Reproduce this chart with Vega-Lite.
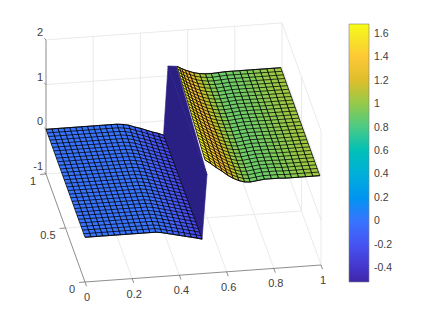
{"$schema":"https://vega.github.io/schema/vega-lite/v6.json","width":423,"height":317,"padding":0,"autosize":{"type":"none"},"background":"white","config":{"view":{"stroke":null}},
"datasets":{
"helper":[{"k":1,"ts":[0,0.0333,0.0667,0.1,0.1333,0.1667,0.2,0.2333,0.2667,0.3,0.3333,0.3667,0.4,0.4333,0.4667,0.5,0.5333,0.5667,0.6,0.6333,0.6667,0.7,0.7333,0.7667,0.8,0.8333,0.8667,0.9,0.9333,0.9667,1],"o":[0,1,2,3],"y":[0,0,1,1]}],
"nodes":[
{"i":0,"xf":0,"zf":0,"xb":0,"zb":0},{"i":1,"xf":0.025,"zf":0,"xb":0.025,"zb":0},{"i":2,"xf":0.05,"zf":0,"xb":0.05,"zb":0},{"i":3,"xf":0.075,"zf":0,"xb":0.075,"zb":0},{"i":4,"xf":0.1,"zf":0,"xb":0.1,"zb":0},{"i":5,"xf":0.125,"zf":0,"xb":0.125,"zb":0},{"i":6,"xf":0.15,"zf":0,"xb":0.15,"zb":0},{"i":7,"xf":0.175,"zf":0,"xb":0.175,"zb":0},{"i":8,"xf":0.2,"zf":0,"xb":0.2,"zb":0},{"i":9,"xf":0.225,"zf":0,"xb":0.225,"zb":0},{"i":10,"xf":0.25,"zf":0,"xb":0.25,"zb":0},{"i":11,"xf":0.275,"zf":0,"xb":0.275,"zb":0},{"i":12,"xf":0.3,"zf":0,"xb":0.3,"zb":0},
{"i":13,"xf":0.325,"zf":-0.02,"xb":0.325,"zb":-0.015},{"i":14,"xf":0.35,"zf":-0.05,"xb":0.35,"zb":-0.04},{"i":15,"xf":0.375,"zf":-0.08,"xb":0.375,"zb":-0.09},{"i":16,"xf":0.4,"zf":-0.11,"xb":0.4,"zb":-0.13},{"i":17,"xf":0.425,"zf":-0.14,"xb":0.425,"zb":-0.18},{"i":18,"xf":0.45,"zf":-0.17,"xb":0.45,"zb":-0.23},{"i":19,"xf":0.475,"zf":-0.2,"xb":0.475,"zb":-0.27},{"i":20,"xf":0.496,"zf":-0.23,"xb":0.498,"zb":-0.32},
{"i":22,"xf":0.508,"zf":1.54,"xb":0.555,"zb":1.2},{"i":23,"xf":0.532,"zf":1.45,"xb":0.565,"zb":1.17},{"i":24,"xf":0.556,"zf":1.35,"xb":0.575,"zb":1.14},{"i":25,"xf":0.58,"zf":1.26,"xb":0.59,"zb":1.1},{"i":26,"xf":0.604,"zf":1.16,"xb":0.605,"zb":1.07},{"i":27,"xf":0.628,"zf":1.08,"xb":0.625,"zb":1.03},{"i":28,"xf":0.652,"zf":1.02,"xb":0.65,"zb":1},{"i":29,"xf":0.676,"zf":0.98,"xb":0.675,"zb":0.985},{"i":30,"xf":0.7,"zf":0.97,"xb":0.7,"zb":0.98},{"i":31,"xf":0.73,"zf":0.99,"xb":0.73,"zb":0.99},{"i":32,"xf":0.76,"zf":1.01,"xb":0.76,"zb":1},{"i":33,"xf":0.79,"zf":1.01,"xb":0.79,"zb":1},{"i":34,"xf":0.82,"zf":1.01,"xb":0.82,"zb":1},{"i":35,"xf":0.85,"zf":1,"xb":0.85,"zb":1},{"i":36,"xf":0.875,"zf":1,"xb":0.875,"zb":1},{"i":37,"xf":0.905,"zf":1,"xb":0.905,"zb":1},{"i":38,"xf":0.935,"zf":1,"xb":0.935,"zb":1},{"i":39,"xf":0.965,"zf":1,"xb":0.965,"zb":1},{"i":40,"xf":0.995,"zf":1,"xb":0.995,"zb":1}],
"strips":[
{"s":39,"c":1.03,"x":[0.965,0.995,0.995,0.965],"z":[1,1,1,1]},{"s":38,"c":1.02,"x":[0.935,0.965,0.965,0.935],"z":[1,1,1,1]},{"s":37,"c":1,"x":[0.905,0.935,0.935,0.905],"z":[1,1,1,1]},{"s":36,"c":0.98,"x":[0.875,0.905,0.905,0.875],"z":[1,1,1,1]},{"s":35,"c":0.96,"x":[0.85,0.875,0.875,0.85],"z":[1,1,1,1]},{"s":34,"c":0.94,"x":[0.82,0.85,0.85,0.82],"z":[1.01,1,1,1]},{"s":33,"c":0.92,"x":[0.79,0.82,0.82,0.79],"z":[1.01,1.01,1,1]},{"s":32,"c":0.91,"x":[0.76,0.79,0.79,0.76],"z":[1.01,1.01,1,1]},{"s":31,"c":0.9,"x":[0.73,0.76,0.76,0.73],"z":[0.99,1.01,1,0.99]},{"s":30,"c":0.91,"x":[0.7,0.73,0.73,0.7],"z":[0.97,0.99,0.99,0.98]},
{"s":29,"c":0.96,"x":[0.676,0.7,0.7,0.675],"z":[0.98,0.97,0.98,0.985]},{"s":28,"c":1.03,"x":[0.652,0.676,0.675,0.65],"z":[1.02,0.98,0.985,1]},{"s":27,"c":1.12,"x":[0.628,0.652,0.65,0.625],"z":[1.08,1.02,1,1.03]},{"s":26,"c":1.22,"x":[0.604,0.628,0.625,0.605],"z":[1.16,1.08,1.03,1.07]},{"s":25,"c":1.32,"x":[0.58,0.604,0.605,0.59],"z":[1.26,1.16,1.07,1.1]},{"s":24,"c":1.42,"x":[0.556,0.58,0.59,0.575],"z":[1.35,1.26,1.1,1.14]},{"s":23,"c":1.52,"x":[0.532,0.556,0.575,0.565],"z":[1.45,1.35,1.14,1.17]},{"s":22,"c":1.62,"x":[0.508,0.532,0.565,0.555],"z":[1.54,1.45,1.17,1.2]},
{"s":21,"c":-0.5,"x":[0.517,0.517,0.553,0.517],"z":[1.2,1.2,1.2,1.22]},{"s":20,"c":-0.5,"x":[0.496,0.517,0.517,0.498],"z":[-0.23,1.2,1.22,-0.32]},
{"s":19,"c":-0.27,"x":[0.475,0.496,0.498,0.475],"z":[-0.2,-0.23,-0.32,-0.27]},{"s":18,"c":-0.22,"x":[0.45,0.475,0.475,0.45],"z":[-0.17,-0.2,-0.27,-0.23]},{"s":17,"c":-0.17,"x":[0.425,0.45,0.45,0.425],"z":[-0.14,-0.17,-0.23,-0.18]},{"s":16,"c":-0.13,"x":[0.4,0.425,0.425,0.4],"z":[-0.11,-0.14,-0.18,-0.13]},{"s":15,"c":-0.09,"x":[0.375,0.4,0.4,0.375],"z":[-0.08,-0.11,-0.13,-0.09]},{"s":14,"c":-0.06,"x":[0.35,0.375,0.375,0.35],"z":[-0.05,-0.08,-0.09,-0.04]},{"s":13,"c":-0.03,"x":[0.325,0.35,0.35,0.325],"z":[-0.02,-0.05,-0.04,-0.015]},{"s":12,"c":-0.01,"x":[0.3,0.325,0.325,0.3],"z":[0,-0.02,-0.015,0]},
{"s":11,"c":0,"x":[0.275,0.3,0.3,0.275],"z":[0,0,0,0]},{"s":10,"c":0,"x":[0.25,0.275,0.275,0.25],"z":[0,0,0,0]},{"s":9,"c":0,"x":[0.225,0.25,0.25,0.225],"z":[0,0,0,0]},{"s":8,"c":0,"x":[0.2,0.225,0.225,0.2],"z":[0,0,0,0]},{"s":7,"c":0,"x":[0.175,0.2,0.2,0.175],"z":[0,0,0,0]},{"s":6,"c":0,"x":[0.15,0.175,0.175,0.15],"z":[0,0,0,0]},{"s":5,"c":0,"x":[0.125,0.15,0.15,0.125],"z":[0,0,0,0]},{"s":4,"c":0,"x":[0.1,0.125,0.125,0.1],"z":[0,0,0,0]},{"s":3,"c":0,"x":[0.075,0.1,0.1,0.075],"z":[0,0,0,0]},{"s":2,"c":0,"x":[0.05,0.075,0.075,0.05],"z":[0,0,0,0]},{"s":1,"c":0,"x":[0.025,0.05,0.05,0.025],"z":[0,0,0,0]},{"s":0,"c":0,"x":[0,0.025,0.025,0],"z":[0,0,0,0]}],
"frame":[
{"g":1,"k":"grid","x":[0,1],"y":[1,1],"z":[-1,-1]},{"g":2,"k":"grid","x":[0,1],"y":[1,1],"z":[0,0]},{"g":3,"k":"grid","x":[0,1],"y":[1,1],"z":[1,1]},{"g":4,"k":"grid","x":[0,1],"y":[1,1],"z":[2,2]},
{"g":5,"k":"grid","x":[1,1],"y":[1,0],"z":[-1,-1]},{"g":6,"k":"grid","x":[1,1],"y":[1,0],"z":[0,0]},{"g":7,"k":"grid","x":[1,1],"y":[1,0],"z":[1,1]},{"g":8,"k":"grid","x":[1,1],"y":[1,0],"z":[2,2]},
{"g":9,"k":"grid","x":[0.2,0.2],"y":[1,1],"z":[-1,2]},{"g":10,"k":"grid","x":[0.4,0.4],"y":[1,1],"z":[-1,2]},{"g":11,"k":"grid","x":[0.6,0.6],"y":[1,1],"z":[-1,2]},{"g":12,"k":"grid","x":[0.8,0.8],"y":[1,1],"z":[-1,2]},{"g":13,"k":"grid","x":[1,1],"y":[1,1],"z":[-1,2]},
{"g":14,"k":"grid","x":[1,1],"y":[0.5,0.5],"z":[-1,2]},{"g":15,"k":"grid","x":[1,1],"y":[0,0],"z":[-1,2]},
{"g":16,"k":"grid","x":[0.2,0.2],"y":[0,1],"z":[-1,-1]},{"g":17,"k":"grid","x":[0.4,0.4],"y":[0,1],"z":[-1,-1]},{"g":18,"k":"grid","x":[0.6,0.6],"y":[0,1],"z":[-1,-1]},{"g":19,"k":"grid","x":[0.8,0.8],"y":[0,1],"z":[-1,-1]},{"g":20,"k":"grid","x":[0,1],"y":[0.5,0.5],"z":[-1,-1]},
{"g":21,"k":"axis","x":[0,0],"y":[1,1],"z":[-1,2]},{"g":22,"k":"axis","x":[0,1],"y":[0,0],"z":[-1,-1]},{"g":23,"k":"axis","x":[0,0],"y":[0,1],"z":[-1,-1]},
{"g":24,"k":"axis","x":[0,0],"y":[0,-0.04],"z":[-1,-1]},{"g":25,"k":"axis","x":[0.2,0.2],"y":[0,-0.04],"z":[-1,-1]},{"g":26,"k":"axis","x":[0.4,0.4],"y":[0,-0.04],"z":[-1,-1]},{"g":27,"k":"axis","x":[0.6,0.6],"y":[0,-0.04],"z":[-1,-1]},{"g":28,"k":"axis","x":[0.8,0.8],"y":[0,-0.04],"z":[-1,-1]},{"g":29,"k":"axis","x":[1,1],"y":[0,-0.04],"z":[-1,-1]},
{"g":30,"k":"axis","x":[0,-0.025],"y":[0,0],"z":[-1,-1]},{"g":31,"k":"axis","x":[0,-0.025],"y":[0.5,0.5],"z":[-1,-1]},{"g":32,"k":"axis","x":[0,-0.025],"y":[1,1],"z":[-1,-1]},
{"g":33,"k":"axis","x":[0,-0.005],"y":[1,1.015],"z":[-1,-1]},{"g":34,"k":"axis","x":[0,-0.005],"y":[1,1.015],"z":[0,0]},{"g":35,"k":"axis","x":[0,-0.005],"y":[1,1.015],"z":[1,1]},{"g":36,"k":"axis","x":[0,-0.005],"y":[1,1.015],"z":[2,2]}],
"labels":[
{"a":"x","t":"0","x":0,"y":0,"z":-1},{"a":"x","t":"0.2","x":0.2,"y":0,"z":-1},{"a":"x","t":"0.4","x":0.4,"y":0,"z":-1},{"a":"x","t":"0.6","x":0.6,"y":0,"z":-1},{"a":"x","t":"0.8","x":0.8,"y":0,"z":-1},{"a":"x","t":"1","x":1,"y":0,"z":-1},
{"a":"y","t":"0","x":0,"y":0,"z":-1},{"a":"y","t":"0.5","x":0,"y":0.5,"z":-1},{"a":"y","t":"1","x":0,"y":1,"z":-1},
{"a":"z","t":"-1","x":0,"y":1,"z":-1},{"a":"z","t":"0","x":0,"y":1,"z":0},{"a":"z","t":"1","x":0,"y":1,"z":1},{"a":"z","t":"2","x":0,"y":1,"z":2}]
},
"encoding":{"x":{"field":"u","type":"quantitative","scale":{"domain":[0,423],"nice":false,"zero":false},"axis":null},"y":{"field":"v","type":"quantitative","scale":{"domain":[0,317],"nice":false,"zero":false,"reverse":true},"axis":null}},
"layer":[
{"data":{"name":"frame"},"transform":[{"filter":"datum.k=='grid'"},{"flatten":["x","y","z"]},{"calculate":"85+236*datum.x-39*datum.y","as":"u"},{"calculate":"282-17*datum.x-108*datum.y-44.7*(datum.z+1)","as":"v"}],"mark":{"type":"line","stroke":"#e4e4e4","strokeWidth":0.8},"encoding":{"detail":{"field":"g"}}},
{"data":{"name":"frame"},"transform":[{"filter":"datum.k=='axis'"},{"flatten":["x","y","z"]},{"calculate":"85+236*datum.x-39*datum.y","as":"u"},{"calculate":"282-17*datum.x-108*datum.y-44.7*(datum.z+1)","as":"v"}],"mark":{"type":"line","stroke":"#707070","strokeWidth":0.8},"encoding":{"detail":{"field":"g"}}},
{"data":{"name":"strips"},"transform":[{"filter":"datum.s>=22"},{"calculate":"1","as":"k"},{"lookup":"k","from":{"data":{"name":"helper"},"key":"k","fields":["o","y"]}},{"flatten":["o","x","y","z"]},{"calculate":"85+236*datum.x-39*datum.y","as":"u"},{"calculate":"282-17*datum.x-108*datum.y-44.7*(datum.z+1)","as":"v"}],"mark":{"type":"line","interpolate":"linear-closed","stroke":"#000","strokeWidth":0.75},"encoding":{"detail":{"field":"s"},"order":{"field":"o"},"fill":{"field":"c","type":"quantitative","scale":{"domain":[-0.52,-0.31,-0.1,0.005,0.11,0.32,0.53,0.74,0.95,1.16,1.3,1.37,1.475,1.58,1.685],"range":["#3e26a8","#4741e5","#4563fd","#3875fe","#2d87f7","#20a5e3","#02bac3","#37c897","#80cc59","#d1bf27","#f8ba3d","#fec338","#f9d62d","#f5e924","#f9fb15"]},"legend":{"title":null,"orient":"none","legendX":349,"legendY":24,"padding":0,"gradientLength":258,"gradientThickness":20,"gradientStrokeColor":"#808080","gradientStrokeWidth":0.6,"values":[-0.4,-0.2,0,0.2,0.4,0.6,0.8,1,1.2,1.4,1.6],"labelExpr":"''+datum.value","labelFont":"Liberation Sans","labelFontSize":10.5,"labelColor":"#404040","labelOffset":5,"labelOverlap":false}}}},
{"data":{"name":"nodes"},"transform":[{"filter":"datum.i>=22"},{"calculate":"1","as":"k"},{"lookup":"k","from":{"data":{"name":"helper"},"key":"k","fields":["ts"]}},{"flatten":["ts"]},{"calculate":"datum.xf+(datum.xb-datum.xf)*datum.ts","as":"x"},{"calculate":"datum.zf+(datum.zb-datum.zf)*datum.ts","as":"z"},{"calculate":"85+236*datum.x-39*datum.ts","as":"u"},{"calculate":"282-17*datum.x-108*datum.ts-44.7*(datum.z+1)","as":"v"}],"mark":{"type":"line","stroke":"#000","strokeWidth":0.75},"encoding":{"detail":{"field":"ts"},"order":{"field":"i"}}},
{"data":{"name":"strips"},"transform":[{"filter":"datum.s==20||datum.s==21"},{"calculate":"1","as":"k"},{"lookup":"k","from":{"data":{"name":"helper"},"key":"k","fields":["o","y"]}},{"flatten":["o","x","y","z"]},{"calculate":"85+236*datum.x-39*datum.y","as":"u"},{"calculate":"282-17*datum.x-108*datum.y-44.7*(datum.z+1)","as":"v"}],"mark":{"type":"line","interpolate":"linear-closed","stroke":"#2a1f82","strokeWidth":0.6,"fill":"#2a1f82"},"encoding":{"detail":{"field":"s"},"order":{"field":"o"}}},
{"data":{"name":"strips"},"transform":[{"filter":"datum.s<20"},{"calculate":"1","as":"k"},{"lookup":"k","from":{"data":{"name":"helper"},"key":"k","fields":["o","y"]}},{"flatten":["o","x","y","z"]},{"calculate":"85+236*datum.x-39*datum.y","as":"u"},{"calculate":"282-17*datum.x-108*datum.y-44.7*(datum.z+1)","as":"v"}],"mark":{"type":"line","interpolate":"linear-closed","stroke":"#000","strokeWidth":0.75},"encoding":{"detail":{"field":"s"},"order":{"field":"o"},"fill":{"field":"c","type":"quantitative","legend":null}}},
{"data":{"name":"nodes"},"transform":[{"filter":"datum.i<=20"},{"calculate":"1","as":"k"},{"lookup":"k","from":{"data":{"name":"helper"},"key":"k","fields":["ts"]}},{"flatten":["ts"]},{"calculate":"datum.xf+(datum.xb-datum.xf)*datum.ts","as":"x"},{"calculate":"datum.zf+(datum.zb-datum.zf)*datum.ts","as":"z"},{"calculate":"85+236*datum.x-39*datum.ts","as":"u"},{"calculate":"282-17*datum.x-108*datum.ts-44.7*(datum.z+1)","as":"v"}],"mark":{"type":"line","stroke":"#000","strokeWidth":0.75},"encoding":{"detail":{"field":"ts"},"order":{"field":"i"}}},
{"data":{"name":"labels"},"transform":[{"filter":"datum.a=='x'"},{"calculate":"85+236*datum.x-39*datum.y","as":"u"},{"calculate":"282-17*datum.x-108*datum.y-44.7*(datum.z+1)","as":"v"}],"mark":{"type":"text","font":"Liberation Sans","fontSize":11,"color":"#404040","align":"center","baseline":"middle","dx":2,"dy":16},"encoding":{"text":{"field":"t"}}},
{"data":{"name":"labels"},"transform":[{"filter":"datum.a=='y'"},{"calculate":"85+236*datum.x-39*datum.y","as":"u"},{"calculate":"282-17*datum.x-108*datum.y-44.7*(datum.z+1)","as":"v"}],"mark":{"type":"text","font":"Liberation Sans","fontSize":11,"color":"#404040","align":"right","baseline":"middle","dx":-10,"dy":8},"encoding":{"text":{"field":"t"}}},
{"data":{"name":"labels"},"transform":[{"filter":"datum.a=='z'"},{"calculate":"85+236*datum.x-39*datum.y","as":"u"},{"calculate":"282-17*datum.x-108*datum.y-44.7*(datum.z+1)","as":"v"}],"mark":{"type":"text","font":"Liberation Sans","fontSize":11,"color":"#404040","align":"right","baseline":"middle","dx":-3,"dy":-7},"encoding":{"text":{"field":"t"}}}
]}
